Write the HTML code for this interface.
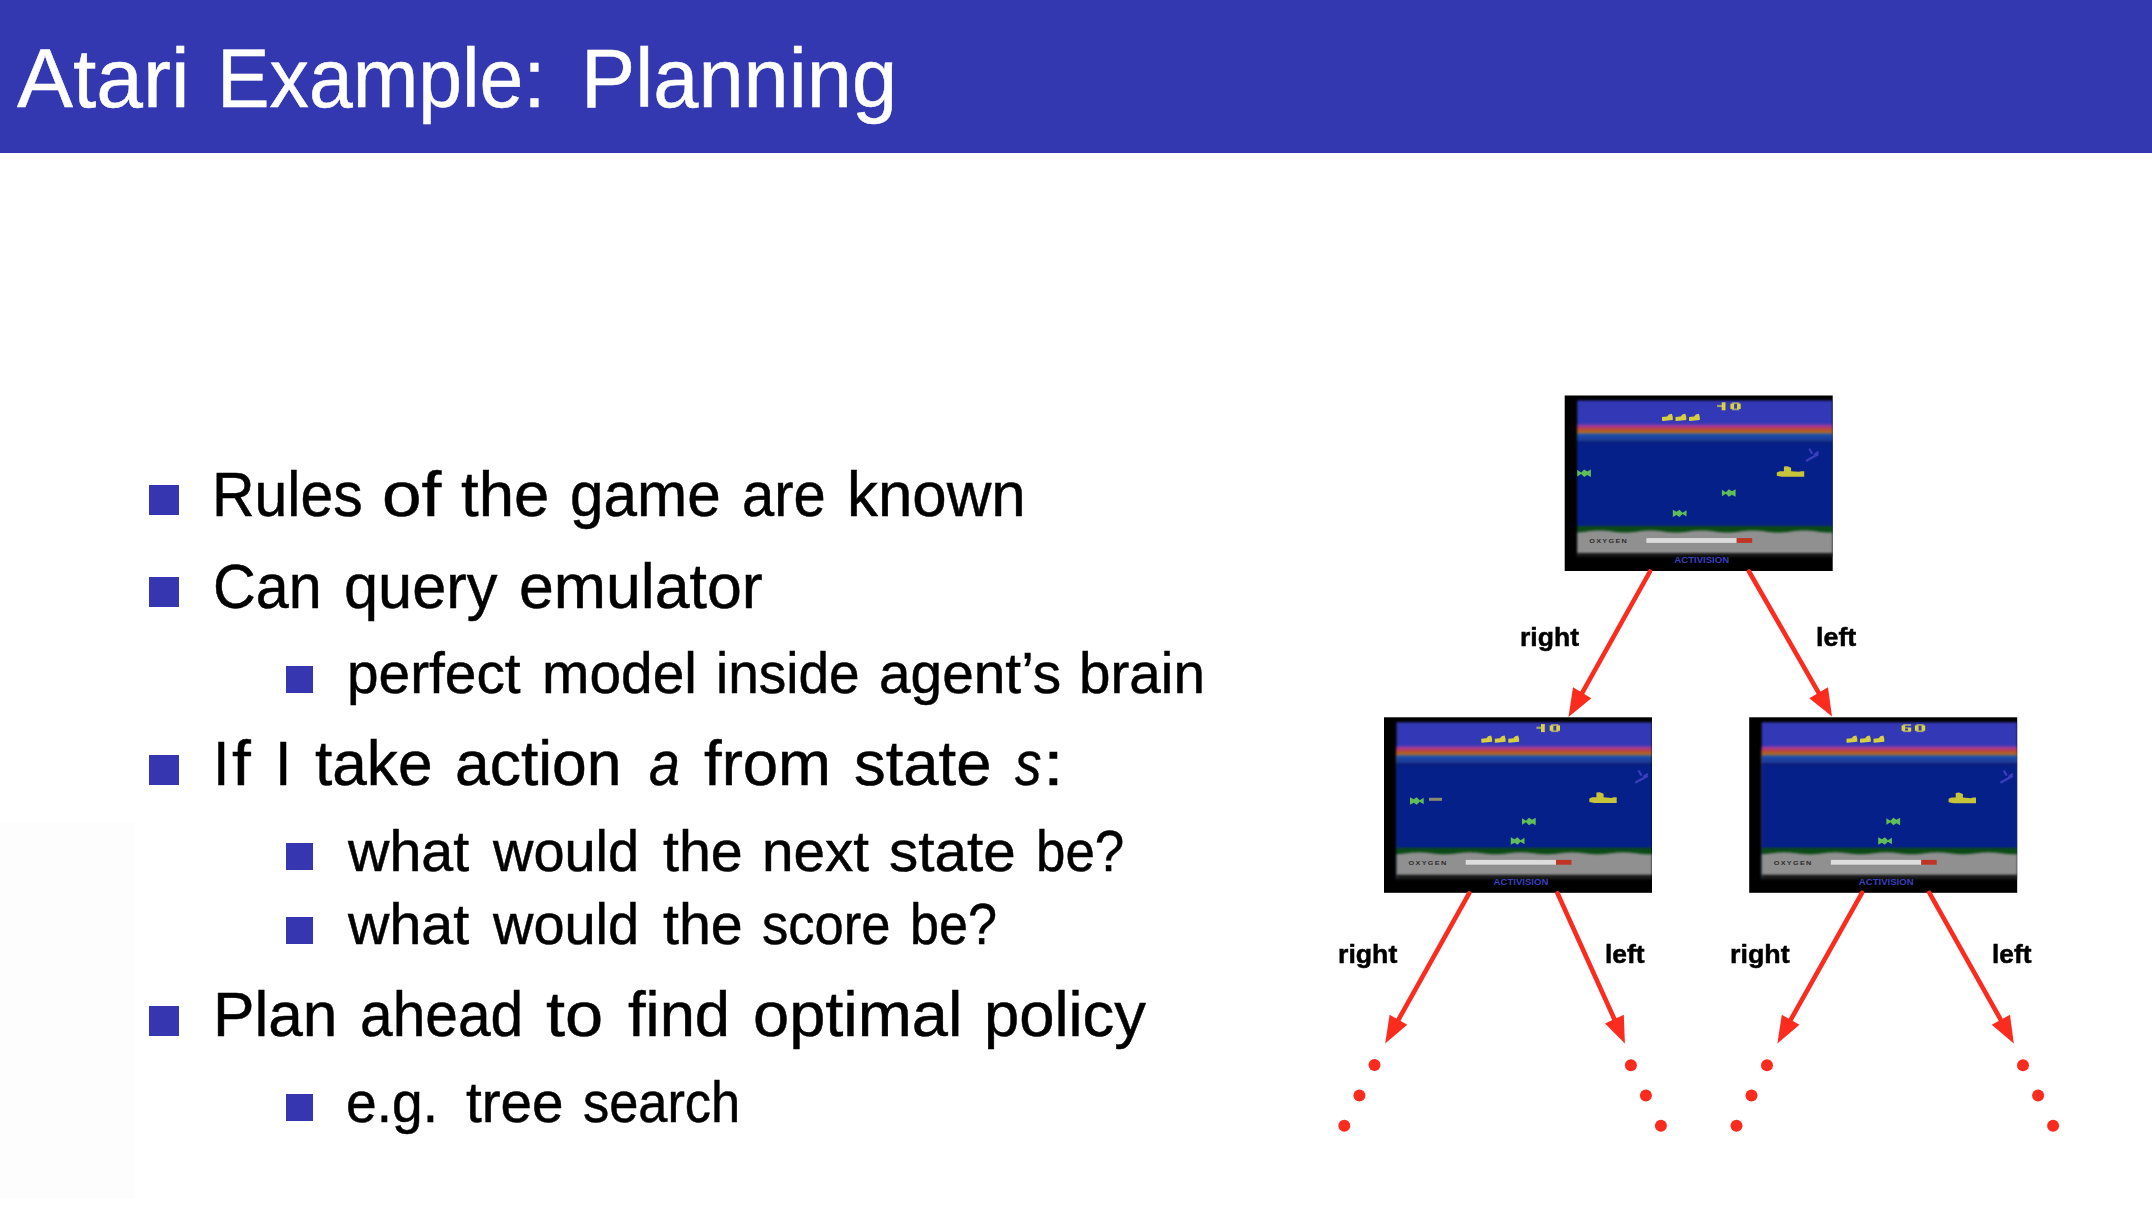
<!DOCTYPE html>
<html>
<head>
<meta charset="utf-8">
<style>
html,body{margin:0;padding:0;}
body{width:2152px;height:1222px;position:relative;overflow:hidden;background:#fff;font-family:"Liberation Sans",sans-serif;}
#hdr{position:absolute;left:0;top:0;width:2152px;height:153px;background:rgb(52,56,176);}
.w{position:absolute;white-space:pre;transform-origin:0 0;-webkit-text-stroke:0.5px currentColor;}
.b{position:absolute;background:rgb(53,54,176);}
svg{position:absolute;left:0;top:0;}
</style>
</head>
<body>
<div style="position:absolute;left:0;top:823px;width:135px;height:376px;background:rgb(253,253,253)"></div>
<div id="hdr"></div>
<span class="w" style="left:16.60px;top:35.79px;font-size:84px;line-height:84px;transform:scaleX(0.9989);color:#fff">Atari</span>
<span class="w" style="left:216.85px;top:35.79px;font-size:84px;line-height:84px;transform:scaleX(0.9375);color:#fff">Example:</span>
<span class="w" style="left:581.45px;top:35.79px;font-size:84px;line-height:84px;transform:scaleX(0.9672);color:#fff">Planning</span>
<span class="w" style="left:212.09px;top:463.07px;font-size:63px;line-height:63px;transform:scaleX(0.9359);color:#000">Rules</span>
<span class="w" style="left:381.78px;top:463.07px;font-size:63px;line-height:63px;transform:scaleX(1.1282);color:#000">of</span>
<span class="w" style="left:461.40px;top:463.07px;font-size:63px;line-height:63px;transform:scaleX(1.0079);color:#000">the</span>
<span class="w" style="left:570.32px;top:463.07px;font-size:63px;line-height:63px;transform:scaleX(0.9564);color:#000">game</span>
<span class="w" style="left:741.89px;top:463.07px;font-size:63px;line-height:63px;transform:scaleX(0.9187);color:#000">are</span>
<span class="w" style="left:846.54px;top:463.07px;font-size:63px;line-height:63px;transform:scaleX(0.9815);color:#000">known</span>
<span class="w" style="left:213.13px;top:554.57px;font-size:63px;line-height:63px;transform:scaleX(0.9397);color:#000">Can</span>
<span class="w" style="left:343.58px;top:554.57px;font-size:63px;line-height:63px;transform:scaleX(0.9735);color:#000">query</span>
<span class="w" style="left:519.24px;top:554.57px;font-size:63px;line-height:63px;transform:scaleX(0.9937);color:#000">emulator</span>
<span class="w" style="left:346.55px;top:645.40px;font-size:57.3px;line-height:57.3px;transform:scaleX(0.9908);color:#000">perfect</span>
<span class="w" style="left:541.85px;top:645.40px;font-size:57.3px;line-height:57.3px;transform:scaleX(0.9926);color:#000">model</span>
<span class="w" style="left:716.36px;top:645.40px;font-size:57.3px;line-height:57.3px;transform:scaleX(0.9596);color:#000">inside</span>
<span class="w" style="left:879.42px;top:645.40px;font-size:57.3px;line-height:57.3px;transform:scaleX(0.9914);color:#000">agent’s</span>
<span class="w" style="left:1079.26px;top:645.40px;font-size:57.3px;line-height:57.3px;transform:scaleX(0.9883);color:#000">brain</span>
<span class="w" style="left:213.16px;top:732.37px;font-size:63px;line-height:63px;transform:scaleX(0.9433);color:#000">I</span>
<span class="w" style="left:231.50px;top:732.37px;font-size:63px;line-height:63px;transform:scaleX(1.0723);color:#000">f</span>
<span class="w" style="left:274.66px;top:732.37px;font-size:63px;line-height:63px;transform:scaleX(0.9433);color:#000">I</span>
<span class="w" style="left:315.00px;top:732.37px;font-size:63px;line-height:63px;transform:scaleX(0.9869);color:#000">take</span>
<span class="w" style="left:455.05px;top:732.37px;font-size:63px;line-height:63px;transform:scaleX(0.9901);color:#000">action</span>
<span class="w" style="left:648.53px;top:732.37px;font-size:63px;line-height:63px;transform:scaleX(0.8804);color:#000;font-style:italic">a</span>
<span class="w" style="left:703.60px;top:732.37px;font-size:63px;line-height:63px;transform:scaleX(1.0078);color:#000">from</span>
<span class="w" style="left:853.91px;top:732.37px;font-size:63px;line-height:63px;transform:scaleX(1.0064);color:#000">state</span>
<span class="w" style="left:1015.40px;top:732.37px;font-size:63px;line-height:63px;transform:scaleX(0.8389);color:#000;font-style:italic">s</span>
<span class="w" style="left:1043.24px;top:732.37px;font-size:63px;line-height:63px;transform:scaleX(1.1900);color:#000">:</span>
<span class="w" style="left:347.60px;top:823.20px;font-size:57.3px;line-height:57.3px;transform:scaleX(1.0006);color:#000">what</span>
<span class="w" style="left:493.17px;top:823.20px;font-size:57.3px;line-height:57.3px;transform:scaleX(0.9763);color:#000">would</span>
<span class="w" style="left:662.50px;top:823.20px;font-size:57.3px;line-height:57.3px;transform:scaleX(1.0009);color:#000">the</span>
<span class="w" style="left:762.26px;top:823.20px;font-size:57.3px;line-height:57.3px;transform:scaleX(0.9884);color:#000">next</span>
<span class="w" style="left:889.49px;top:823.20px;font-size:57.3px;line-height:57.3px;transform:scaleX(1.0198);color:#000">state</span>
<span class="w" style="left:1035.60px;top:823.20px;font-size:57.3px;line-height:57.3px;transform:scaleX(0.9228);color:#000">be?</span>
<span class="w" style="left:347.60px;top:896.30px;font-size:57.3px;line-height:57.3px;transform:scaleX(1.0006);color:#000">what</span>
<span class="w" style="left:493.17px;top:896.30px;font-size:57.3px;line-height:57.3px;transform:scaleX(0.9763);color:#000">would</span>
<span class="w" style="left:662.50px;top:896.30px;font-size:57.3px;line-height:57.3px;transform:scaleX(1.0009);color:#000">the</span>
<span class="w" style="left:762.08px;top:896.30px;font-size:57.3px;line-height:57.3px;transform:scaleX(0.9160);color:#000">score</span>
<span class="w" style="left:910.14px;top:896.30px;font-size:57.3px;line-height:57.3px;transform:scaleX(0.9095);color:#000">be?</span>
<span class="w" style="left:212.84px;top:983.17px;font-size:63px;line-height:63px;transform:scaleX(0.9870);color:#000">Plan</span>
<span class="w" style="left:359.87px;top:983.17px;font-size:63px;line-height:63px;transform:scaleX(0.9312);color:#000">ahead</span>
<span class="w" style="left:546.20px;top:983.17px;font-size:63px;line-height:63px;transform:scaleX(1.0883);color:#000">to</span>
<span class="w" style="left:627.50px;top:983.17px;font-size:63px;line-height:63px;transform:scaleX(1.0047);color:#000">find</span>
<span class="w" style="left:753.27px;top:983.17px;font-size:63px;line-height:63px;transform:scaleX(1.0311);color:#000">optimal</span>
<span class="w" style="left:983.64px;top:983.17px;font-size:63px;line-height:63px;transform:scaleX(1.0055);color:#000">policy</span>
<span class="w" style="left:345.68px;top:1073.80px;font-size:57.3px;line-height:57.3px;transform:scaleX(0.9627);color:#000">e.g.</span>
<span class="w" style="left:465.90px;top:1073.80px;font-size:57.3px;line-height:57.3px;transform:scaleX(0.9884);color:#000">tree</span>
<span class="w" style="left:582.88px;top:1073.80px;font-size:57.3px;line-height:57.3px;transform:scaleX(0.9138);color:#000">search</span>
<span class="w" style="left:1520.44px;top:623.57px;font-size:26.5px;line-height:26.5px;transform:scaleX(1.0019);font-weight:bold;color:#000">right</span>
<span class="w" style="left:1816.32px;top:623.77px;font-size:26.5px;line-height:26.5px;transform:scaleX(1.0141);font-weight:bold;color:#000">left</span>
<span class="w" style="left:1338.33px;top:940.67px;font-size:26.5px;line-height:26.5px;transform:scaleX(1.0072);font-weight:bold;color:#000">right</span>
<span class="w" style="left:1605.35px;top:940.77px;font-size:26.5px;line-height:26.5px;transform:scaleX(0.9983);font-weight:bold;color:#000">left</span>
<span class="w" style="left:1730.42px;top:940.67px;font-size:26.5px;line-height:26.5px;transform:scaleX(1.0125);font-weight:bold;color:#000">right</span>
<span class="w" style="left:1991.96px;top:940.77px;font-size:26.5px;line-height:26.5px;transform:scaleX(0.9930);font-weight:bold;color:#000">left</span>
<div class="b" style="left:149px;top:485.3px;width:30px;height:30.2px"></div>
<div class="b" style="left:149px;top:577.3px;width:30px;height:29.7px"></div>
<div class="b" style="left:285.8px;top:665.7px;width:27.2px;height:27.3px"></div>
<div class="b" style="left:149px;top:755.0px;width:30px;height:29.6px"></div>
<div class="b" style="left:285.8px;top:843.3px;width:27.2px;height:27.2px"></div>
<div class="b" style="left:285.8px;top:916.8px;width:27.2px;height:26.8px"></div>
<div class="b" style="left:149px;top:1006.0px;width:30px;height:29.6px"></div>
<div class="b" style="left:285.8px;top:1094.3px;width:27.2px;height:27.1px"></div>
<svg width="2152" height="1222">
<defs><filter id="bl" color-interpolation-filters="sRGB" x="-5%" y="-5%" width="110%" height="110%"><feGaussianBlur stdDeviation="0.8"/></filter></defs>
<rect x="1564.7" y="395.5" width="268" height="175.5" fill="#000"/>
<clipPath id="c1564"><rect x="1564.7" y="395.5" width="268" height="175.5"/></clipPath>
<g clip-path="url(#c1564)"><g filter="url(#bl)">
<rect x="1577.2" y="400.50" width="255.5" height="156.50" fill="#3338b6"/>
<rect x="1577.2" y="424.20" width="255.5" height="132.80" fill="#8a3aa4"/>
<rect x="1577.2" y="426.40" width="255.5" height="130.60" fill="#b83a78"/>
<rect x="1577.2" y="428.30" width="255.5" height="128.70" fill="#b8463e"/>
<rect x="1577.2" y="430.10" width="255.5" height="126.90" fill="#b2621c"/>
<rect x="1577.2" y="432.70" width="255.5" height="124.30" fill="#7a7478"/>
<rect x="1577.2" y="433.90" width="255.5" height="123.10" fill="#1b4aa8"/>
<rect x="1577.2" y="437.50" width="255.5" height="119.50" fill="#1d3e9c"/>
<rect x="1577.2" y="441.30" width="255.5" height="115.70" fill="#0b1c6c"/>
<rect x="1577.2" y="442.80" width="255.5" height="114.20" fill="#06208a"/>
<rect x="1577.2" y="526.00" width="255.5" height="31.00" fill="#0b4a16"/>
<rect x="1577.2" y="534.00" width="255.5" height="23.00" fill="#909090"/>
<rect x="1577.2" y="553.00" width="255.5" height="4.00" fill="#161616"/>
<polygon points="1577.2,532.4 1580.4,532.2 1583.6,531.9 1586.8,531.5 1590.0,531.1 1593.2,530.8 1596.4,530.6 1599.6,530.5 1602.8,530.6 1605.9,530.8 1609.1,531.1 1612.3,531.5 1615.5,531.9 1618.7,532.2 1621.9,532.4 1625.1,532.5 1628.3,532.4 1631.5,532.2 1634.7,531.9 1637.9,531.5 1641.1,531.1 1644.3,530.8 1647.5,530.6 1650.7,530.5 1653.9,530.6 1657.0,530.8 1660.2,531.1 1663.4,531.5 1666.6,531.9 1669.8,532.2 1673.0,532.4 1676.2,532.5 1679.4,532.4 1682.6,532.2 1685.8,531.9 1689.0,531.5 1692.2,531.1 1695.4,530.8 1698.6,530.6 1701.8,530.5 1705.0,530.6 1708.1,530.8 1711.3,531.1 1714.5,531.5 1717.7,531.9 1720.9,532.2 1724.1,532.4 1727.3,532.5 1730.5,532.4 1733.7,532.2 1736.9,531.9 1740.1,531.5 1743.3,531.1 1746.5,530.8 1749.7,530.6 1752.9,530.5 1756.0,530.6 1759.2,530.8 1762.4,531.1 1765.6,531.5 1768.8,531.9 1772.0,532.2 1775.2,532.4 1778.4,532.5 1781.6,532.4 1784.8,532.2 1788.0,531.9 1791.2,531.5 1794.4,531.1 1797.6,530.8 1800.8,530.6 1804.0,530.5 1807.2,530.6 1810.3,530.8 1813.5,531.1 1816.7,531.5 1819.9,531.9 1823.1,532.2 1826.3,532.4 1829.5,532.5 1832.7,532.4 1832.7,534.5 1577.2,534.5" fill="#909090"/>
</g>
<rect x="1717.1" y="404.9" width="4.8" height="2.2" fill="#a6a27a"/><rect x="1721.7" y="402.3" width="3.8" height="8.0" fill="#d8d43c"/><rect x="1731.9" y="402.3" width="7.3" height="1.8" fill="#a6a27a"/><rect x="1731.9" y="408.5" width="7.3" height="1.8" fill="#a6a27a"/><rect x="1730.4" y="403.6" width="3.7" height="5.4" fill="#d8d43c"/><rect x="1737.0" y="403.6" width="3.7" height="5.4" fill="#d8d43c"/>
<polygon points="1662.0,417.0 1667.2,416.4 1668.8,414.4 1671.8,413.8 1672.8,417.0 1672.8,420.0 1663.0,421.0 1662.0,420.8" fill="#d6d040"/>
<polygon points="1675.5,417.0 1680.7,416.4 1682.3,414.4 1685.3,413.8 1686.3,417.0 1686.3,420.0 1676.5,421.0 1675.5,420.8" fill="#d6d040"/>
<polygon points="1689.0,417.0 1694.2,416.4 1695.8,414.4 1698.8,413.8 1699.8,417.0 1699.8,420.0 1690.0,421.0 1689.0,420.8" fill="#d6d040"/>
<polygon points="1776.8,472.4 1779.8,471.2 1783.9,471.2 1783.9,466.5 1787.3,466.2 1791.1,467.7 1791.1,471.2 1798.8,471.8 1801.3,471.2 1804.2,471.2 1804.2,476.8 1801.3,476.8 1781.8,476.8 1776.8,475.8" fill="#c8c43a"/>
<polygon points="1577.2,470.0 1581.2,472.5 1584.2,469.5 1587.2,471.5 1590.9,469.5 1590.9,476.9 1587.2,474.9 1584.2,476.9 1581.2,473.9 1577.2,476.4" fill="#5fbe58"/>
<polygon points="1721.9,489.8 1725.9,492.3 1728.9,489.3 1731.9,491.3 1735.6,489.3 1735.6,496.7 1731.9,494.7 1728.9,496.7 1725.9,493.7 1721.9,496.2" fill="#5fbe58"/>
<polygon points="1686.5,510.2 1682.5,512.7 1679.5,509.7 1676.5,511.7 1672.8,509.7 1672.8,517.1 1676.5,515.1 1679.5,517.1 1682.5,514.1 1686.5,516.6" fill="#5fbe58"/>
<g fill="none" stroke="#3c3ebc" stroke-width="2.2" stroke-linecap="round"><line x1="1806.7" y1="460.5" x2="1817.7" y2="454.5"/><line x1="1809.7" y1="449.5" x2="1811.7" y2="453.0"/><line x1="1814.7" y1="454.5" x2="1817.7" y2="452.5"/></g>

<text x="1589.2" y="543.0" font-family="Liberation Sans" font-weight="bold" font-size="5.6" fill="#2e2e2e" letter-spacing="1" textLength="39" lengthAdjust="spacingAndGlyphs">OXYGEN</text>
<rect x="1646.4" y="538.1" width="90.3" height="4.8" fill="#dcdcdc"/>
<rect x="1736.7" y="538.1" width="15.5" height="4.8" fill="#c03424"/>
<text x="1674.3" y="563.3" font-family="Liberation Sans" font-weight="bold" font-size="8.2" fill="#3a3fbc" textLength="54.8" lengthAdjust="spacingAndGlyphs">ACTIVISION</text>
</g>
<rect x="1384" y="717.3" width="268" height="175.5" fill="#000"/>
<clipPath id="c1384"><rect x="1384" y="717.3" width="268" height="175.5"/></clipPath>
<g clip-path="url(#c1384)"><g filter="url(#bl)">
<rect x="1396.5" y="722.30" width="255.5" height="156.50" fill="#3338b6"/>
<rect x="1396.5" y="746.00" width="255.5" height="132.80" fill="#8a3aa4"/>
<rect x="1396.5" y="748.20" width="255.5" height="130.60" fill="#b83a78"/>
<rect x="1396.5" y="750.10" width="255.5" height="128.70" fill="#b8463e"/>
<rect x="1396.5" y="751.90" width="255.5" height="126.90" fill="#b2621c"/>
<rect x="1396.5" y="754.50" width="255.5" height="124.30" fill="#7a7478"/>
<rect x="1396.5" y="755.70" width="255.5" height="123.10" fill="#1b4aa8"/>
<rect x="1396.5" y="759.30" width="255.5" height="119.50" fill="#1d3e9c"/>
<rect x="1396.5" y="763.10" width="255.5" height="115.70" fill="#0b1c6c"/>
<rect x="1396.5" y="764.60" width="255.5" height="114.20" fill="#06208a"/>
<rect x="1396.5" y="847.80" width="255.5" height="31.00" fill="#0b4a16"/>
<rect x="1396.5" y="855.80" width="255.5" height="23.00" fill="#909090"/>
<rect x="1396.5" y="874.80" width="255.5" height="4.00" fill="#161616"/>
<polygon points="1396.5,854.2 1399.7,854.0 1402.9,853.7 1406.1,853.3 1409.3,852.9 1412.5,852.6 1415.7,852.4 1418.9,852.3 1422.0,852.4 1425.2,852.6 1428.4,852.9 1431.6,853.3 1434.8,853.7 1438.0,854.0 1441.2,854.2 1444.4,854.3 1447.6,854.2 1450.8,854.0 1454.0,853.7 1457.2,853.3 1460.4,852.9 1463.6,852.6 1466.8,852.4 1470.0,852.3 1473.2,852.4 1476.3,852.6 1479.5,852.9 1482.7,853.3 1485.9,853.7 1489.1,854.0 1492.3,854.2 1495.5,854.3 1498.7,854.2 1501.9,854.0 1505.1,853.7 1508.3,853.3 1511.5,852.9 1514.7,852.6 1517.9,852.4 1521.1,852.3 1524.2,852.4 1527.4,852.6 1530.6,852.9 1533.8,853.3 1537.0,853.7 1540.2,854.0 1543.4,854.2 1546.6,854.3 1549.8,854.2 1553.0,854.0 1556.2,853.7 1559.4,853.3 1562.6,852.9 1565.8,852.6 1569.0,852.4 1572.2,852.3 1575.3,852.4 1578.5,852.6 1581.7,852.9 1584.9,853.3 1588.1,853.7 1591.3,854.0 1594.5,854.2 1597.7,854.3 1600.9,854.2 1604.1,854.0 1607.3,853.7 1610.5,853.3 1613.7,852.9 1616.9,852.6 1620.1,852.4 1623.3,852.3 1626.5,852.4 1629.6,852.6 1632.8,852.9 1636.0,853.3 1639.2,853.7 1642.4,854.0 1645.6,854.2 1648.8,854.3 1652.0,854.2 1652.0,856.3 1396.5,856.3" fill="#909090"/>
</g>
<rect x="1536.4" y="726.7" width="4.8" height="2.2" fill="#a6a27a"/><rect x="1541.0" y="724.1" width="3.8" height="8.0" fill="#d8d43c"/><rect x="1551.2" y="724.1" width="7.3" height="1.8" fill="#a6a27a"/><rect x="1551.2" y="730.3" width="7.3" height="1.8" fill="#a6a27a"/><rect x="1549.7" y="725.4" width="3.7" height="5.4" fill="#d8d43c"/><rect x="1556.3" y="725.4" width="3.7" height="5.4" fill="#d8d43c"/>
<polygon points="1481.3,738.8 1486.5,738.2 1488.1,736.2 1491.1,735.6 1492.1,738.8 1492.1,741.8 1482.3,742.8 1481.3,742.6" fill="#d6d040"/>
<polygon points="1494.8,738.8 1500.0,738.2 1501.6,736.2 1504.6,735.6 1505.6,738.8 1505.6,741.8 1495.8,742.8 1494.8,742.6" fill="#d6d040"/>
<polygon points="1508.3,738.8 1513.5,738.2 1515.1,736.2 1518.1,735.6 1519.1,738.8 1519.1,741.8 1509.3,742.8 1508.3,742.6" fill="#d6d040"/>
<polygon points="1589.3,798.5 1592.3,797.3 1596.4,797.3 1596.4,792.6 1599.8,792.3 1603.6,793.8 1603.6,797.3 1611.3,797.9 1613.8,797.3 1616.7,797.3 1616.7,802.9 1613.8,802.9 1594.3,802.9 1589.3,801.9" fill="#c8c43a"/>
<polygon points="1423.7,797.8 1419.7,800.3 1416.7,797.3 1413.7,799.3 1410.0,797.3 1410.0,804.7 1413.7,802.7 1416.7,804.7 1419.7,801.7 1423.7,804.2" fill="#5fbe58"/>
<polygon points="1522.0,818.3 1526.0,820.8 1529.0,817.8 1532.0,819.8 1535.7,817.8 1535.7,825.2 1532.0,823.2 1529.0,825.2 1526.0,822.2 1522.0,824.7" fill="#5fbe58"/>
<polygon points="1524.5,837.8 1520.5,840.3 1517.5,837.3 1514.5,839.3 1510.8,837.3 1510.8,844.7 1514.5,842.7 1517.5,844.7 1520.5,841.7 1524.5,844.2" fill="#5fbe58"/>
<g fill="none" stroke="#3c3ebc" stroke-width="2.2" stroke-linecap="round"><line x1="1636.0" y1="782.3" x2="1647.0" y2="776.3"/><line x1="1639.0" y1="771.3" x2="1641.0" y2="774.8"/><line x1="1644.0" y1="776.3" x2="1647.0" y2="774.3"/></g>
<rect x="1429" y="797.8" width="13" height="3" fill="#8a8a70"/>
<text x="1408.5" y="864.8" font-family="Liberation Sans" font-weight="bold" font-size="5.6" fill="#2e2e2e" letter-spacing="1" textLength="39" lengthAdjust="spacingAndGlyphs">OXYGEN</text>
<rect x="1465.7" y="859.9" width="90.3" height="4.8" fill="#dcdcdc"/>
<rect x="1556" y="859.9" width="15.5" height="4.8" fill="#c03424"/>
<text x="1493.6" y="885.0999999999999" font-family="Liberation Sans" font-weight="bold" font-size="8.2" fill="#3a3fbc" textLength="54.8" lengthAdjust="spacingAndGlyphs">ACTIVISION</text>
</g>
<rect x="1749.2" y="717.3" width="268" height="175.5" fill="#000"/>
<clipPath id="c1749"><rect x="1749.2" y="717.3" width="268" height="175.5"/></clipPath>
<g clip-path="url(#c1749)"><g filter="url(#bl)">
<rect x="1761.7" y="722.30" width="255.5" height="156.50" fill="#3338b6"/>
<rect x="1761.7" y="746.00" width="255.5" height="132.80" fill="#8a3aa4"/>
<rect x="1761.7" y="748.20" width="255.5" height="130.60" fill="#b83a78"/>
<rect x="1761.7" y="750.10" width="255.5" height="128.70" fill="#b8463e"/>
<rect x="1761.7" y="751.90" width="255.5" height="126.90" fill="#b2621c"/>
<rect x="1761.7" y="754.50" width="255.5" height="124.30" fill="#7a7478"/>
<rect x="1761.7" y="755.70" width="255.5" height="123.10" fill="#1b4aa8"/>
<rect x="1761.7" y="759.30" width="255.5" height="119.50" fill="#1d3e9c"/>
<rect x="1761.7" y="763.10" width="255.5" height="115.70" fill="#0b1c6c"/>
<rect x="1761.7" y="764.60" width="255.5" height="114.20" fill="#06208a"/>
<rect x="1761.7" y="847.80" width="255.5" height="31.00" fill="#0b4a16"/>
<rect x="1761.7" y="855.80" width="255.5" height="23.00" fill="#909090"/>
<rect x="1761.7" y="874.80" width="255.5" height="4.00" fill="#161616"/>
<polygon points="1761.7,854.2 1764.9,854.0 1768.1,853.7 1771.3,853.3 1774.5,852.9 1777.7,852.6 1780.9,852.4 1784.1,852.3 1787.2,852.4 1790.4,852.6 1793.6,852.9 1796.8,853.3 1800.0,853.7 1803.2,854.0 1806.4,854.2 1809.6,854.3 1812.8,854.2 1816.0,854.0 1819.2,853.7 1822.4,853.3 1825.6,852.9 1828.8,852.6 1832.0,852.4 1835.2,852.3 1838.4,852.4 1841.5,852.6 1844.7,852.9 1847.9,853.3 1851.1,853.7 1854.3,854.0 1857.5,854.2 1860.7,854.3 1863.9,854.2 1867.1,854.0 1870.3,853.7 1873.5,853.3 1876.7,852.9 1879.9,852.6 1883.1,852.4 1886.3,852.3 1889.5,852.4 1892.6,852.6 1895.8,852.9 1899.0,853.3 1902.2,853.7 1905.4,854.0 1908.6,854.2 1911.8,854.3 1915.0,854.2 1918.2,854.0 1921.4,853.7 1924.6,853.3 1927.8,852.9 1931.0,852.6 1934.2,852.4 1937.4,852.3 1940.5,852.4 1943.7,852.6 1946.9,852.9 1950.1,853.3 1953.3,853.7 1956.5,854.0 1959.7,854.2 1962.9,854.3 1966.1,854.2 1969.3,854.0 1972.5,853.7 1975.7,853.3 1978.9,852.9 1982.1,852.6 1985.3,852.4 1988.5,852.3 1991.7,852.4 1994.8,852.6 1998.0,852.9 2001.2,853.3 2004.4,853.7 2007.6,854.0 2010.8,854.2 2014.0,854.3 2017.2,854.2 2017.2,856.3 1761.7,856.3" fill="#909090"/>
</g>
<rect x="1903.1" y="724.1" width="8.0" height="1.8" fill="#a6a27a"/><rect x="1903.1" y="730.3" width="7.5" height="1.8" fill="#a6a27a"/><rect x="1904.9" y="727.3" width="3.5" height="1.3" fill="#a6a27a"/><rect x="1901.6" y="725.3" width="3.5" height="5.6" fill="#d8d43c"/><rect x="1908.0" y="727.5" width="3.2" height="3.8" fill="#d8d43c"/><rect x="1916.4" y="724.1" width="7.3" height="1.8" fill="#a6a27a"/><rect x="1916.4" y="730.3" width="7.3" height="1.8" fill="#a6a27a"/><rect x="1914.9" y="725.4" width="3.7" height="5.4" fill="#d8d43c"/><rect x="1921.5" y="725.4" width="3.7" height="5.4" fill="#d8d43c"/>
<polygon points="1846.5,738.8 1851.7,738.2 1853.3,736.2 1856.3,735.6 1857.3,738.8 1857.3,741.8 1847.5,742.8 1846.5,742.6" fill="#d6d040"/>
<polygon points="1860.0,738.8 1865.2,738.2 1866.8,736.2 1869.8,735.6 1870.8,738.8 1870.8,741.8 1861.0,742.8 1860.0,742.6" fill="#d6d040"/>
<polygon points="1873.5,738.8 1878.7,738.2 1880.3,736.2 1883.3,735.6 1884.3,738.8 1884.3,741.8 1874.5,742.8 1873.5,742.6" fill="#d6d040"/>
<polygon points="1948.6,798.8 1951.6,797.6 1955.7,797.6 1955.7,792.9 1959.1,792.6 1962.9,794.1 1962.9,797.6 1970.6,798.2 1973.1,797.6 1976.0,797.6 1976.0,803.2 1973.1,803.2 1953.6,803.2 1948.6,802.2" fill="#c8c43a"/>
<polygon points="1886.4,818.3 1890.4,820.8 1893.4,817.8 1896.4,819.8 1900.1,817.8 1900.1,825.2 1896.4,823.2 1893.4,825.2 1890.4,822.2 1886.4,824.7" fill="#5fbe58"/>
<polygon points="1891.9,837.8 1887.9,840.3 1884.9,837.3 1881.9,839.3 1878.2,837.3 1878.2,844.7 1881.9,842.7 1884.9,844.7 1887.9,841.7 1891.9,844.2" fill="#5fbe58"/>
<g fill="none" stroke="#3c3ebc" stroke-width="2.2" stroke-linecap="round"><line x1="2001.2" y1="782.3" x2="2012.2" y2="776.3"/><line x1="2004.2" y1="771.3" x2="2006.2" y2="774.8"/><line x1="2009.2" y1="776.3" x2="2012.2" y2="774.3"/></g>

<text x="1773.7" y="864.8" font-family="Liberation Sans" font-weight="bold" font-size="5.6" fill="#2e2e2e" letter-spacing="1" textLength="39" lengthAdjust="spacingAndGlyphs">OXYGEN</text>
<rect x="1830.9" y="859.9" width="90.3" height="4.8" fill="#dcdcdc"/>
<rect x="1921.2" y="859.9" width="15.5" height="4.8" fill="#c03424"/>
<text x="1858.8" y="885.0999999999999" font-family="Liberation Sans" font-weight="bold" font-size="8.2" fill="#3a3fbc" textLength="54.8" lengthAdjust="spacingAndGlyphs">ACTIVISION</text>
</g>
<line x1="1650" y1="571.5" x2="1582.2" y2="692.8" stroke="#fb2b1e" stroke-width="4.6" stroke-linecap="round"/><polygon points="1568.5,717.1 1573,687.3 1591.3,698.2" fill="#fb2b1e"/>
<line x1="1749" y1="571.5" x2="1818.7" y2="692.8" stroke="#fb2b1e" stroke-width="4.6" stroke-linecap="round"/><polygon points="1832,716.5 1809.3,698.2 1828,687.3" fill="#fb2b1e"/>
<line x1="1469.1" y1="893.3" x2="1398.4" y2="1019.8" stroke="#fb2b1e" stroke-width="4.6" stroke-linecap="round"/><polygon points="1385.2,1043.5 1389.6,1014.8 1407.3,1024.7" fill="#fb2b1e"/>
<line x1="1557.5" y1="893.3" x2="1614.4" y2="1019.2" stroke="#fb2b1e" stroke-width="4.6" stroke-linecap="round"/><polygon points="1624.9,1043.5 1605,1023.6 1623.8,1014.8" fill="#fb2b1e"/>
<line x1="1862" y1="892.8" x2="1790.7" y2="1019.8" stroke="#fb2b1e" stroke-width="4.6" stroke-linecap="round"/><polygon points="1777.4,1043.5 1781.8,1014.8 1799.5,1024.7" fill="#fb2b1e"/>
<line x1="1929.4" y1="892.8" x2="2000.8" y2="1019.8" stroke="#fb2b1e" stroke-width="4.6" stroke-linecap="round"/><polygon points="2013.8,1043.5 1991.7,1024.7 2010,1014.8" fill="#fb2b1e"/>
<circle cx="1374.5" cy="1065.1" r="6" fill="#fb2b1e"/>
<circle cx="1359.4" cy="1095.4" r="6" fill="#fb2b1e"/>
<circle cx="1344.3" cy="1125.7" r="6" fill="#fb2b1e"/>
<circle cx="1630.9" cy="1065.2" r="6" fill="#fb2b1e"/>
<circle cx="1645.9" cy="1095.4" r="6" fill="#fb2b1e"/>
<circle cx="1660.9" cy="1125.7" r="6" fill="#fb2b1e"/>
<circle cx="1767" cy="1065.2" r="6" fill="#fb2b1e"/>
<circle cx="1751.5" cy="1095.4" r="6" fill="#fb2b1e"/>
<circle cx="1736.5" cy="1125.7" r="6" fill="#fb2b1e"/>
<circle cx="2023" cy="1065.2" r="6" fill="#fb2b1e"/>
<circle cx="2038.1" cy="1095.4" r="6" fill="#fb2b1e"/>
<circle cx="2053.1" cy="1125.7" r="6" fill="#fb2b1e"/>
</svg>
</body>
</html>
